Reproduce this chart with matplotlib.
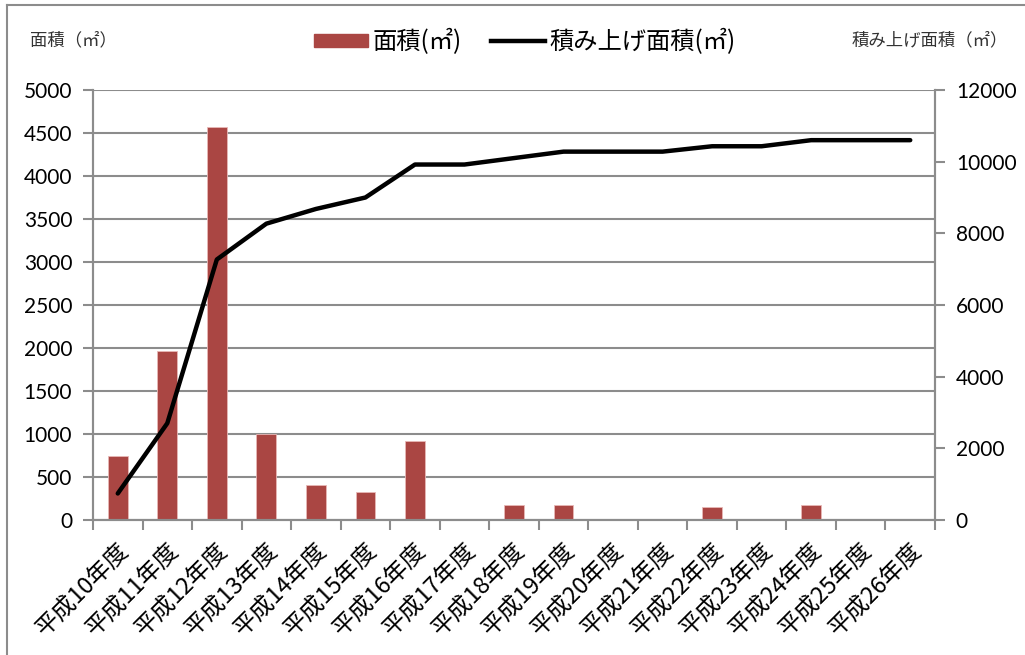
import matplotlib
matplotlib.use("Agg")
import matplotlib.pyplot as plt
from matplotlib.lines import Line2D
from matplotlib.patches import Patch

plt.rcParams['font.family'] = ['Lato', 'Noto Sans CJK JP', 'DejaVu Sans']

categories = ["平成10年度", "平成11年度", "平成12年度", "平成13年度", "平成14年度",
              "平成15年度", "平成16年度", "平成17年度", "平成18年度", "平成19年度",
              "平成20年度", "平成21年度", "平成22年度", "平成23年度", "平成24年度",
              "平成25年度", "平成26年度"]
area = [740, 1960, 4570, 1000, 410, 320, 920, 0, 180, 180, 0, 0, 150, 0, 170, 0, 0]
cumulative = [740, 2700, 7270, 8270, 8680, 9000, 9920, 9920, 10100, 10280,
              10280, 10280, 10430, 10430, 10600, 10600, 10600]
left_ticks = [0, 500, 1000, 1500, 2000, 2500, 3000, 3500, 4000, 4500, 5000]
right_ticks = [0, 2000, 4000, 6000, 8000, 10000, 12000]

W, H = 1025, 655
fig = plt.figure(figsize=(W / 100, H / 100), dpi=100)
ax = fig.add_axes([93 / W, 1 - 520 / H, (935 - 93) / W, (520 - 90) / H])
ax2 = ax.twinx()

grid_c = '#8c8c8c'
n = len(categories)
x = list(range(n))

ax.set_axisbelow(True)
ax.bar(x, area, width=0.4, color='#AA4643', edgecolor='#E8B8B6', linewidth=0.6, zorder=2)
ax.set_ylim(0, 5000)
ax.set_xlim(-0.5, n - 0.5)
ax.set_yticks(left_ticks)
ax.yaxis.grid(True, color=grid_c, linewidth=1.5)
ax.set_xticks([i - 0.5 for i in range(n + 1)])
ax.set_xticklabels([])
ax.set_xticks(x, minor=True)
ax.set_xticklabels(categories, minor=True, rotation=45, ha='right', va='top',
                   rotation_mode='anchor', fontsize=17,
                   family=['Noto Sans CJK JP', 'DejaVu Sans'])
ax.tick_params(axis='x', which='minor', length=0, pad=14)
ax.tick_params(axis='x', which='major', length=7, width=1.5, color=grid_c, direction='out')
ax.tick_params(axis='y', length=7, width=1.5, color=grid_c, labelsize=15, pad=8)

ax2.plot(x, cumulative, color='black', linewidth=3.2, solid_capstyle='round', zorder=3)
ax2.set_ylim(0, 12000)
ax2.set_yticks(right_ticks)
ax2.tick_params(axis='y', length=7, width=1.5, color=grid_c, labelsize=15, pad=8)

for a in (ax, ax2):
    a.spines['top'].set_visible(False)
    for s in ('left', 'right', 'bottom'):
        a.spines[s].set_color(grid_c)
        a.spines[s].set_linewidth(1.5)

# axis titles
fig.text(30 / W, 1 - 40 / H, "面積（㎡）", fontsize=12.5, color='#333333',
         family=['Noto Sans CJK JP'], va='center', ha='left')
fig.text(1008 / W, 1 - 40 / H, "積み上げ面積（㎡）", fontsize=12.5, color='#333333',
         family=['Noto Sans CJK JP'], va='center', ha='right')

# legend
handles = [Patch(facecolor='#AA4643', edgecolor='#AA4643'),
           Line2D([0], [0], color='black', linewidth=3.2)]
leg = fig.legend(handles, ["面積(㎡)", "積み上げ面積(㎡)"], loc='center',
                 bbox_to_anchor=(525 / W, 1 - 42 / H), ncol=2, frameon=False,
                 prop={'family': ['Noto Sans CJK JP'], 'size': 17.5},
                 handlelength=2.2, handleheight=0.5, columnspacing=1.2, handletextpad=0.2)

# figure border (left and top)
fig.add_artist(Line2D([7 / W, 7 / W], [0, 1 - 5 / H], transform=fig.transFigure,
                      color='#8c8c8c', linewidth=1.5))
fig.add_artist(Line2D([7 / W, 1], [1 - 5 / H, 1 - 5 / H], transform=fig.transFigure,
                      color='#8c8c8c', linewidth=1.5))

fig.savefig('out.png', dpi=100)
